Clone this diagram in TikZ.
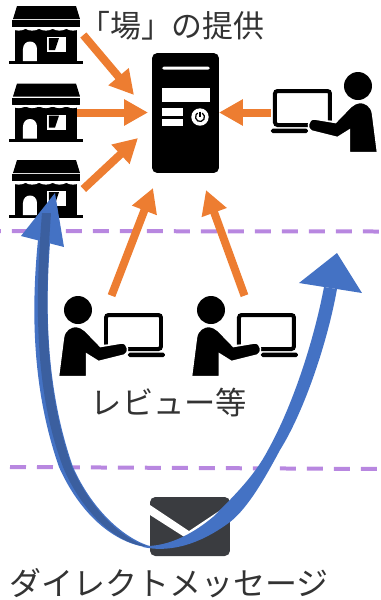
\documentclass[tikz,border=0pt]{standalone}
\usepackage{fontspec}
\usetikzlibrary{arrows.meta}
\newfontfamily\jpfont{Noto Sans CJK JP}
\definecolor{dmorange}{HTML}{ED7D31}
\definecolor{dmblue}{HTML}{4472C4}
\definecolor{dmdark}{HTML}{3B5F9F}
\definecolor{dmpurple}{HTML}{B887E0}
\definecolor{dmmail}{HTML}{3A3C40}
\tikzset{
    shop icon/.pic={
        \fill (-29,-29) -- (30,-29) -- (34,-16) -- (-33,-16) -- cycle;
        \fill (-34,-15) rectangle (34,-8);
        \fill (-31,-6) rectangle (31,26);
        \fill (-37,26) rectangle (37,29);
        \foreach \i in {0,...,4}
            \draw[white,line width=.03cm] (-34+13.6*\i,-7) .. controls (-30+13.6*\i,-4.5) and (-25+13.6*\i,-4.5) .. (-20.4+13.6*\i,-7);
        \fill[white] (-23,26) -- (-23,14) .. controls (-23,4) and (-9,4) .. (-9,14) -- (-9,26) -- cycle;
        \fill[white] (1,2) rectangle (20,17);
        \fill (3,3) -- (13,3) -- (9,15) -- (3,15) -- cycle;
    },
    user icon/.pic={
        \fill (-33.5,-26.5) circle (14);
        \draw[line width=.08cm,rounded corners=1.5pt] (-5.5,8) -- (-5.5,-21.5) -- (49.5,-21.5) -- (49.5,12.5) -- (16,12.5);
        \fill[rounded corners=1pt] (16.5,16) rectangle (53.5,20.5);
        \filldraw[draw=white,line width=.03cm] (-53,40) -- (-48,1) .. controls (-47,-7) and (-40,-10) .. (-36.5,-10) .. controls (-32,-10) and (-29,-8) .. (-26.5,-6)
            -- (-11,10) -- (10,6.5) .. controls (17,6) and (18,17) .. (13,18.5) -- (-13,25) -- (-25,17.5) -- (-25,40) -- cycle;
    }
}

\begin{document}
\begin{tikzpicture}[x=.02cm,y=-.02cm]
    \tikzstyle{shop box}=[inner sep=0pt,minimum width=1.48cm,minimum height=1.16cm]
    \tikzstyle{user box}=[inner sep=0pt,minimum width=2.14cm,minimum height=1.62cm]
    \tikzstyle{server box}=[fill=black,rounded corners=3pt,inner sep=0pt,minimum width=1.34cm,minimum height=2.4cm]
    \tikzstyle{mail box}=[fill=dmmail,rounded corners=3pt,inner sep=0pt,minimum width=1.6cm,minimum height=1.18cm]
    \tikzstyle{label}=[inner sep=0pt,font=\jpfont\fontsize{17.6}{20}\selectfont,text=black!80]
    \tikzstyle{block arrow}=[draw=dmorange,line width=.16cm,-{Triangle[length=.48cm,width=.5cm]}]
    \tikzstyle{border line}=[draw=dmpurple,line width=.08cm,dash pattern=on .32cm off .22cm]
    \clip (0,0) rectangle (380,600);

    \foreach \name/\y in {1/35,2/112.5,3/189}
        \node[shop box] (shop\name) at (46,\y) {};
    \node[server box] (server) at (185.5,113) {};
    \node[user box] (user1) at (324.5,112.5) {};
    \node[user box] (user2) at (111.5,336.5) {};
    \node[user box] (user3) at (244.5,336.5) {};
    \node[mail box] (mail) at (190,526.5) {};
    \node[label] (place) at (172,26) {「場」の提供};
    \node[label,font=\jpfont\fontsize{17.8}{20}\selectfont] (review) at (169,403) {レビュー等};
    \node[label,font=\jpfont\fontsize{18.2}{20}\selectfont] (direct) at (169,583) {ダイレクトメッセージ};

    \coordinate (line1a) at (-15,231);
    \coordinate (line1b) at (380,231.5);
    \coordinate (line2a) at (10,467);
    \coordinate (line2b) at (380,469);
    \path[border line] (line1a) -- (line1b);
    \path[border line] (line2a) -- (line2b);

    \foreach \name/\x/\y in {1/134/95,2/148/112.5,3/138/138,4/153/188,5/206/190,6/219/112.5}
        \coordinate (tip\name) at (\x,\y);
    \foreach \source/\dest in {shop1.east/tip1,shop2.center/tip2,shop3.east/tip3,user2.north/tip4,user3.north/tip5,user1.west/tip6}
        \path[block arrow] (\source) -- (\dest);

    % icons
    \foreach \name in {1,2,3}
        \pic at (shop\name) {shop icon};
    \pic[xscale=-1] at (user1) {user icon};
    \pic at (user2) {user icon};
    \pic at (user3) {user icon};

    % server front
    \fill[white,rounded corners=1pt] (162,66.5) rectangle (210,69.5);
    \fill[white] (162,88) rectangle (210,102);
    \fill[white] (162,108) rectangle (183,116);
    \fill[white] (162,119) rectangle (183,126);
    \fill[white] (200,117) circle (8.7);
    \draw[line width=.025cm] (202.25,113.1) arc (60:-240:.09cm);
    \draw[line width=.025cm] (200,111.5) -- (200,117);

    % mail
    \fill[white] (150,505) -- (189,531) -- (228,505) -- (230,510) -- (186,538) -- (150,515) -- cycle;

    % curved arrows
    \fill[dmblue] (38,240) .. controls (31,310) and (32,390) .. (59,467) .. controls (78,510) and (112,545) .. (153,548)
        -- (153,547) .. controls (125,540) and (92,510) .. (73,467) .. controls (46,390) and (45,310) .. (50,243) -- cycle;
    \fill[dmblue] (55,193) -- (64,247) -- (21,236) -- cycle;
    \fill[dmdark] (42,213) .. controls (35,300) and (34,390) .. (63,467) .. controls (81,510) and (115,545) .. (150,547)
        .. controls (122,540) and (91,510) .. (72,467) .. controls (45,390) and (44,310) .. (51,213) -- cycle;
    \fill[dmblue] (143,547) .. controls (165,552) and (195,548) .. (230,522) .. controls (248,508) and (265,478) .. (280,450)
        .. controls (305,410) and (328,340) .. (337,289) -- (324,287) .. controls (314,340) and (293,405) .. (268,450)
        .. controls (255,475) and (235,495) .. (213,517) .. controls (195,532) and (170,547) .. (143,546) -- cycle;
    \fill[dmblue] (337,253) -- (362,293) -- (299,283) -- cycle;
\end{tikzpicture}
\end{document}
